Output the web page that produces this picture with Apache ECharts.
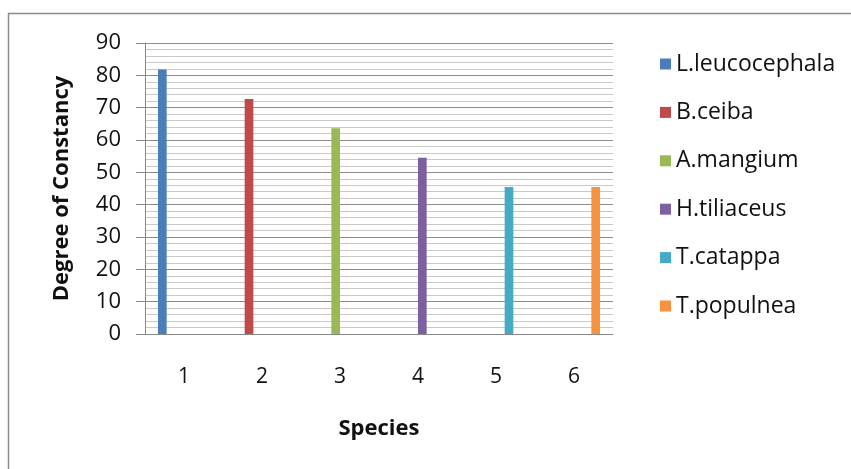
<!DOCTYPE html>
<html>
<head>
<meta charset="utf-8">
<script src="https://cdn.jsdelivr.net/npm/echarts@6/dist/echarts.min.js"></script>
<style>html,body{margin:0;padding:0;background:#fff;}#c{width:851px;height:469px;}</style>
</head>
<body>
<div id="c"></div>
<script>
var categories = ['1', '2', '3', '4', '5', '6'];
var seriesNames = ['L.leucocephala', 'B.ceiba', 'A.mangium', 'H.tiliaceus', 'T.catappa', 'T.populnea'];
var seriesValues = [81.8, 72.7, 63.6, 54.5, 45.5, 45.5];
var colors = ['#4a7ebb', '#be4b48', '#98b954', '#7d60a0', '#46aac5', '#f69240'];

var FONT = 'Open Sans';
var chart = echarts.init(document.getElementById('c'), null, {renderer: 'canvas'});

var series = seriesNames.map(function (name, i) {
  var data = categories.map(function (c, j) { return j === i ? seriesValues[i] : '-'; });
  return {
    name: name,
    type: 'bar',
    data: data,
    barGap: '0%',
    barCategoryGap: '33.3%',
    itemStyle: {color: colors[i]}
  };
});

chart.setOption({
  animation: false,
  color: colors,
  graphic: [{
    type: 'rect',
    shape: {x: 8.5, y: 13.5, width: 900, height: 500},
    style: {fill: 'none', stroke: '#8c8c8c', lineWidth: 1.5},
    z: -1
  }],
  grid: {left: 145, right: 238, top: 43, bottom: 135, containLabel: false},
  legend: {
    orient: 'vertical',
    left: 655,
    top: 47,
    itemWidth: 11,
    itemHeight: 11,
    itemGap: 24.4,
    icon: 'rect',
    textStyle: {fontFamily: FONT, fontSize: 23, color: '#111', lineHeight: 24, padding: [0, 0, 0, 0]},
    data: seriesNames
  },
  xAxis: {
    type: 'category',
    data: categories,
    name: 'Species',
    nameLocation: 'middle',
    nameGap: 84,
    nameTextStyle: {fontFamily: FONT, fontSize: 22, fontWeight: 'bold', color: '#111'},
    axisLine: {show: true, lineStyle: {color: '#888', width: 1}},
    axisTick: {show: false},
    axisLabel: {fontFamily: FONT, fontSize: 21, color: '#111', margin: 33}
  },
  yAxis: {
    type: 'value',
    min: 0,
    max: 90,
    interval: 10,
    name: 'Degree of Constancy',
    nameLocation: 'middle',
    nameGap: 72,
    nameTextStyle: {fontFamily: FONT, fontSize: 22, fontWeight: 'bold', color: '#111'},
    axisLine: {show: true, lineStyle: {color: '#888', width: 1}},
    axisTick: {show: true, inside: false, length: 9, lineStyle: {color: '#888'}},
    axisLabel: {fontFamily: FONT, fontSize: 22, color: '#111', margin: 24},
    splitLine: {show: true, lineStyle: {color: '#8c8c8c', width: 1}},
    minorTick: {show: false, splitNumber: 5},
    minorSplitLine: {show: true, lineStyle: {color: '#c8c8c8', width: 1}}
  },
  series: series
});
</script>
</body>
</html>
